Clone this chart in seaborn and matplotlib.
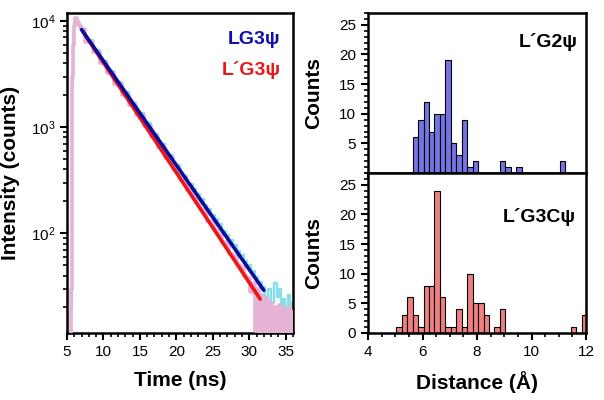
import numpy as np
import pandas as pd
import matplotlib
matplotlib.use("Agg")
import matplotlib.pyplot as plt
import seaborn as sns
from matplotlib.ticker import MultipleLocator, FixedLocator

sns.set_theme(style="ticks")
plt.rcParams['font.family'] = ['Liberation Sans', 'DejaVu Sans']
plt.rcParams['mathtext.fontset'] = 'custom'
plt.rcParams['mathtext.rm'] = 'Liberation Sans'
plt.rcParams['mathtext.it'] = 'Liberation Sans:italic'
plt.rcParams['mathtext.bf'] = 'Liberation Sans:bold'
plt.rcParams['text.color'] = 'black'
plt.rcParams['axes.labelcolor'] = 'black'
plt.rcParams['xtick.color'] = 'black'
plt.rcParams['ytick.color'] = 'black'

# ---------------- data ----------------
# LG3psi decay trace (time ns, counts)
t_lg3 = [5.5, 5.7, 5.8, 5.95, 6.05, 6.15, 6.25, 6.35, 6.5, 6.7, 7.0, 8, 9, 10, 11, 12, 13, 14, 15,
         16, 17, 18, 19, 20, 21, 22, 22.5, 23, 23.5, 24, 24.5, 25, 25.5, 26, 26.5, 27, 27.5, 28,
         28.5, 29, 29.5, 30, 30.5, 31, 31.5, 32, 32.4, 32.8, 33.2, 33.6, 33.9, 34.2, 34.5, 34.8,
         35.1, 35.4, 35.7, 36]
c_lg3 = [10, 20, 2500, 7500, 9800, 10500, 10700, 10500, 10000, 9300, 8400, 6620, 5280, 4210, 3360,
         2680, 2140, 1700, 1360, 1084, 864, 689, 550, 438, 349, 290, 262, 235, 212, 186, 170, 150,
         135, 122, 106, 97, 86, 78, 68, 62, 55, 50, 44, 39, 35, 31, 25, 30, 22, 34, 25, 30, 20, 24,
         18, 26, 20, 22]
# L'G3psi decay trace
t_lpg3 = [5.5, 5.7, 5.8, 5.9, 6.0, 6.1, 6.2, 6.3, 6.45, 6.6, 6.8, 7.0, 8, 9, 10, 11, 12, 13, 14, 15,
          16, 17, 18, 19, 20, 21, 22, 22.5, 23, 23.5, 24, 24.5, 25, 25.5, 26, 26.5, 27, 27.5, 28,
          28.5, 29, 29.5, 30, 30.3, 30.6, 30.9, 31.2, 31.5, 31.8, 32.1, 32.4, 32.7, 33.0, 33.3,
          33.6, 33.9, 34.2, 34.5, 34.8, 35.1, 35.4, 35.7, 36]
c_lpg3 = [10, 30, 3000, 6000, 9000, 10200, 10700, 10600, 10100, 9600, 9000, 8400, 6400, 5100, 4050,
          3220, 2560, 2030, 1620, 1290, 1020, 815, 645, 510, 405, 320, 255, 215, 200, 168, 160,
          132, 126, 104, 98, 82, 78, 64, 61, 50, 48, 40, 38, 28, 34, 12, 30, 9, 26, 10, 24, 8, 22,
          9, 20, 8, 21, 9, 19, 8, 20, 9, 18]
# single-exponential fits (endpoints)
fit_lg3_t = [7.0, 32.0]
fit_lg3_c = [8300, 29]
fit_lpg3_t = [7.2, 31.5]
fit_lpg3_c = [7900, 24]

# distance histograms (bin centers in Angstrom, counts)
dist_centers = [5.14, 5.34, 5.54, 5.74, 5.94, 6.14, 6.34, 6.54, 6.74, 6.94, 7.14, 7.34, 7.54, 7.74,
                7.94, 8.14, 8.34, 8.54, 8.74, 8.94, 9.14, 9.34, 9.54, 9.74, 9.94, 10.14, 10.34,
                10.54, 10.74, 10.94, 11.14, 11.34, 11.54, 11.74, 11.94]
counts_lpg2 = [0, 0, 0, 6, 9, 12, 7, 10, 10, 19, 5, 3, 9, 1, 2, 0, 0, 0, 0, 2, 1, 0, 1, 0, 0, 0, 0,
               0, 0, 0, 2, 0, 0, 0, 0]
counts_lpg3c = [1, 3, 6, 3, 1, 8, 8, 24, 6, 1, 1, 4, 1, 10, 5, 5, 3, 0, 1, 4, 0, 0, 0, 0, 0, 0, 0,
                0, 0, 0, 0, 0, 1, 0, 3]
bin_width = 0.2

# ---------------- figure ----------------
fig = plt.figure(figsize=(6.04, 4.0), dpi=100)
axL = fig.add_axes([67/604, 1-333/400, 226/604, 320/400])
axT = fig.add_axes([368/604, 1-173/400, 218/604, 160/400])
axB = fig.add_axes([368/604, 1-333/400, 218/604, 160/400])

df_a = pd.DataFrame({"t": t_lg3, "c": c_lg3})
df_b = pd.DataFrame({"t": t_lpg3, "c": c_lpg3})
sns.lineplot(data=df_a, x="t", y="c", ax=axL, color="#86dfe8", lw=1.7, drawstyle="steps-mid", zorder=2)
sns.lineplot(data=df_b, x="t", y="c", ax=axL, color="#e5b3d6", lw=2.6, drawstyle="steps-mid", zorder=3)
sns.lineplot(x=fit_lg3_t, y=fit_lg3_c, ax=axL, color="#0b0b9c", lw=2.6, zorder=5)
sns.lineplot(x=fit_lpg3_t, y=fit_lpg3_c, ax=axL, color="#f01414", lw=2.6, zorder=4)
axL.set_yscale("log")
axL.set_xlim(5, 36)
axL.set_ylim(11.5, 11900)
axL.xaxis.set_major_locator(MultipleLocator(5))
axL.xaxis.set_minor_locator(MultipleLocator(1))
axL.set_xlabel("Time (ns)", fontsize=15, fontweight="bold")
axL.set_ylabel("Intensity (counts)", fontsize=15, fontweight="bold")
axL.xaxis.set_label_coords(0.5, -0.12)
axL.yaxis.set_label_coords(-0.21, 0.5)
axL.text(0.945, 0.918, "LG3ψ", transform=axL.transAxes, ha="right", va="center",
         color="#1010b0", fontsize=14, fontweight="bold")
axL.text(0.945, 0.822, "L´G3ψ", transform=axL.transAxes, ha="right", va="center",
         color="#e81818", fontsize=14, fontweight="bold")

edges = [c - bin_width/2 for c in dist_centers] + [dist_centers[-1] + bin_width/2]
sns.histplot(x=dist_centers, weights=counts_lpg2, bins=edges, ax=axT, color="#7474e4",
             edgecolor="black", linewidth=0.8, alpha=1.0)
sns.histplot(x=dist_centers, weights=counts_lpg3c, bins=edges, ax=axB, color="#f07f7f",
             edgecolor="black", linewidth=0.8, alpha=1.0)
for ax in (axT, axB):
    ax.set_xlim(4, 12)
    ax.set_ylim(0, 27)
    ax.xaxis.set_major_locator(MultipleLocator(2))
    ax.xaxis.set_minor_locator(MultipleLocator(0.5))
    ax.yaxis.set_minor_locator(MultipleLocator(1))
    ax.set_ylabel("Counts", fontsize=15, fontweight="bold")
    ax.yaxis.set_label_coords(-0.205, 0.5)
axT.yaxis.set_major_locator(FixedLocator([5, 10, 15, 20, 25]))
axB.yaxis.set_major_locator(FixedLocator([0, 5, 10, 15, 20, 25]))
axT.set_xlabel("")
axT.tick_params(axis="x", labelbottom=False)
axB.set_xlabel("Distance (Å)", fontsize=15, fontweight="bold")
axB.xaxis.set_label_coords(0.5, -0.24)
axT.text(0.96, 0.82, "L´G2ψ", transform=axT.transAxes, ha="right", va="center",
         color="black", fontsize=14, fontweight="bold")
axB.text(0.955, 0.725, "L´G3Cψ", transform=axB.transAxes, ha="right", va="center",
         color="black", fontsize=14, fontweight="bold")

for ax in (axL, axT, axB):
    for s in ax.spines.values():
        s.set_visible(True)
        s.set_linewidth(1.8)
        s.set_color("black")
    ax.tick_params(which="major", direction="out", length=5, width=1.5, labelsize=11, color="black",
                   labelcolor="black", top=False, right=False)
    ax.tick_params(which="minor", direction="out", length=3, width=1.2, color="black",
                   top=False, right=False)

fig.savefig("out.png", dpi=100)
